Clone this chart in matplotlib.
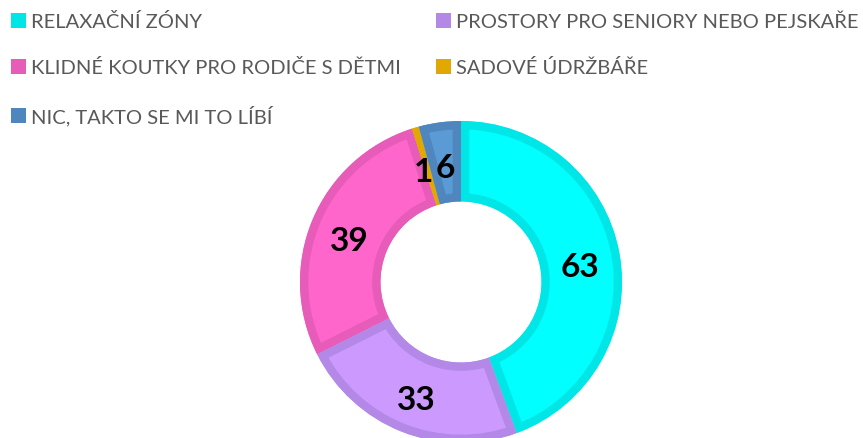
import numpy as np
import matplotlib.pyplot as plt
from matplotlib.patches import Patch, Wedge

categories = ["RELAXAČNÍ ZÓNY", "PROSTORY PRO SENIORY NEBO PEJSKAŘE",
              "KLIDNÉ KOUTKY PRO RODIČE S DĚTMI", "SADOVÉ ÚDRŽBÁŘE",
              "NIC, TAKTO SE MI TO LÍBÍ"]
values = [63, 33, 39, 1, 6]
fills = ["#00FFFF", "#CC99FF", "#FF66CC", "#F0B400", "#5B9BD5"]
edges = ["#00E6E6", "#B388E6", "#E65CB8", "#E0A800", "#4F86BE"]

W, H = 863, 439
fig = plt.figure(figsize=(W / 100, H / 100), dpi=100)

cx, cy, r = 461, 156, 161
ax = fig.add_axes([(cx - r) / W, (cy - r) / H, 2 * r / W, 2 * r / H])
wedges, _ = ax.pie(values, colors=fills, startangle=90, counterclock=False,
                   radius=1, wedgeprops=dict(width=0.5, linewidth=0))
ax.set_xlim(-1, 1)
ax.set_ylim(-1, 1)

# darker inner border on every wedge
for w, ec in zip(wedges, edges):
    b = Wedge(w.center, w.r, w.theta1, w.theta2, width=w.width,
              facecolor="none", edgecolor=ec, linewidth=12)
    ax.add_patch(b)
    b.set_clip_path(w)

for w, v in zip(wedges, values):
    ang = np.deg2rad((w.theta1 + w.theta2) / 2)
    dx = -0.02 if v == 1 else 0
    ax.text(0.75 * np.cos(ang) + dx, 0.75 * np.sin(ang) - 0.035, str(v),
            ha="center", va="center", fontsize=24, fontweight="bold",
            color="black", family="Lato")
ax.axis("off")

order = [0, 2, 4, 1, 3]
handles = [Patch(facecolor=edges[i], edgecolor="none") for i in order]
labels = [categories[i] for i in order]
fig.legend(handles, labels, ncol=2, loc="upper left",
           bbox_to_anchor=(0.0, 0.995), frameon=False,
           prop=dict(family="Lato", size=14.5), labelcolor="#595959",
           handlelength=0.75, handleheight=0.75, handletextpad=0.25,
           labelspacing=1.4, columnspacing=1.75, borderaxespad=0.15)

fig.savefig("out.png", dpi=100)
